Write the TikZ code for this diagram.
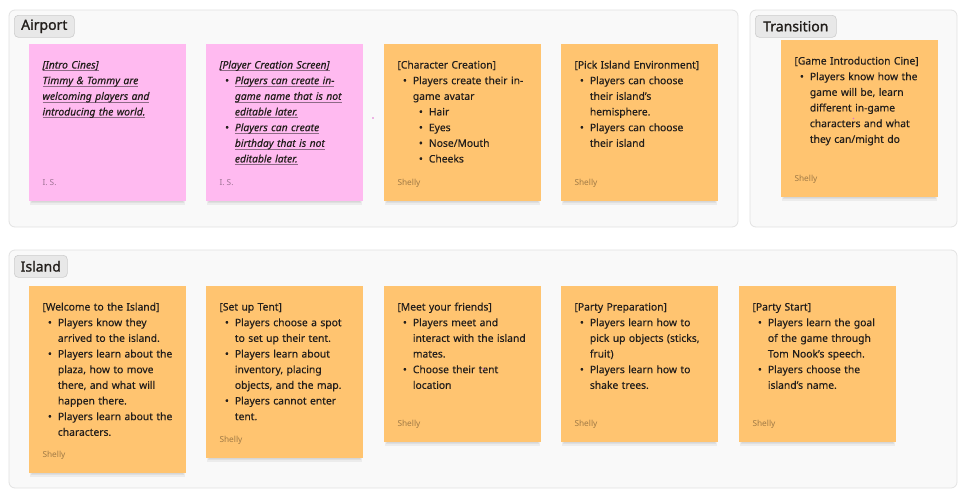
\documentclass[tikz,border=0pt]{standalone}
\usepackage{fontspec}
\setmainfont[FakeBold=0.3]{Noto Sans}
\newfontfamily\labfont[FakeBold=1.2]{Noto Sans}
\newfontfamily\footfont{Noto Sans}
\definecolor{secfill}{HTML}{F9F9F9}
\definecolor{secline}{HTML}{E2E2E2}
\definecolor{labfill}{HTML}{E8E8E8}
\definecolor{labline}{HTML}{CDCDCD}
\definecolor{orangec}{HTML}{FFC470}
\definecolor{pinkc}{HTML}{FFBAF0}
\definecolor{txt}{HTML}{221E1B}
\definecolor{ulc}{HTML}{8E6A86}
\definecolor{dotc}{HTML}{E070D0}
\newsavebox\uubox
\newcommand\uu[1]{\leavevmode\sbox\uubox{#1}\rlap{\textcolor{ulc}{\rule[-2.6pt]{\wd\uubox}{0.7pt}}}\usebox\uubox}
\newcommand\bdotchar{{\fontsize{10.5}{10.5}\selectfont\raisebox{0pt}{•}}}
\newcommand\bi[1]{\hspace*{7.4pt}\makebox[0pt]{\bdotchar}\hspace*{8pt}#1}
\newcommand\ci[1]{\hspace*{15.4pt}#1}
\newcommand\sbi[1]{\hspace*{23.4pt}\makebox[0pt]{\bdotchar}\hspace*{8pt}#1}
\newcommand\cardshadow[1]{%
  \fill[black, opacity=0.05] ([xshift=1pt]#1.south west) rectangle ([xshift=-1pt,yshift=-3.5pt]#1.south east);
  \fill[black, opacity=0.05] ([xshift=2pt]#1.south west) rectangle ([xshift=-2pt,yshift=-2pt]#1.south east);
  \fill[black, opacity=0.04] ([xshift=3pt]#1.south west) rectangle ([xshift=-3pt,yshift=-1pt]#1.south east);}
\tikzset{
  secbox/.style={draw=secline, fill=secfill, line width=0.8pt, rounded corners=6pt},
  lab/.style={draw=labline, fill=labfill, rounded corners=4pt, line width=0.6pt,
    anchor=north west, minimum height=22pt, inner sep=0pt, text=txt,
    font=\labfont\fontsize{14}{14}\selectfont},
  card/.style={anchor=north west, minimum width=156.5pt, inner sep=0pt},
  ocard/.style={card, fill=orangec},
  pcard/.style={card, fill=pinkc},
  cardtext/.style={anchor=base west, inner sep=0pt, text width=150pt, align=left,
    font=\fontsize{10.3}{15.66}\selectfont, text=txt},
  pinktext/.style={cardtext, font=\fontsize{10.3}{15.66}\selectfont\itshape},
  foot/.style={anchor=west, inner sep=0pt, text=black, text opacity=0.38,
    font=\footfont\fontsize{8.3}{9}\selectfont},
  cursordot/.style={fill=dotc, inner sep=0pt, minimum size=1.6pt, circle}
}
\begin{document}
\begin{tikzpicture}[x=1pt, y=-1pt]
\useasboundingbox (0,0) rectangle (969,501);
\fill[white] (0,0) rectangle (969,501);
% sections
\draw[secbox] (9,10) rectangle (738,227);
\draw[secbox] (750,10) rectangle (957,227);
\draw[secbox] (9,250) rectangle (957,488);
\node[lab, minimum width=60pt] (lair) at (14,15) {Airport};
\node[lab, minimum width=81pt] (ltra) at (755,15) {Transition};
\node[lab, minimum width=53pt] (lisl) at (14,255) {Island};
% Airport cards
\node[pcard, minimum height=157pt] (a1) at (29,44) {};
\cardshadow{a1}
\node[pinktext] (a1t) at ([shift={(13.3,24.5)}]a1.north west) {%
\uu{[Intro Cines]}\\
\uu{Timmy \& Tommy are}\\
\uu{welcoming players and}\\
\uu{introducing the world.}};
\node[foot] (a1f) at ([shift={(13.3,-18.5)}]a1.south west) {I. S.};

\node[pcard, minimum height=157pt] (a2) at (206,44) {};
\cardshadow{a2}
\node[pinktext] (a2t) at ([shift={(13.3,24.5)}]a2.north west) {%
\uu{[Player Creation Screen]}\\
\bi{\uu{Players can create in-}}\\
\ci{\uu{game name that is not}}\\
\ci{\uu{editable later.}}\\
\bi{\uu{Players can create}}\\
\ci{\uu{birthday that is not}}\\
\ci{\uu{editable later.}}};
\node[foot] (a2f) at ([shift={(13.3,-18.5)}]a2.south west) {I. S.};

\node[ocard, minimum height=157pt] (a3) at (384,44) {};
\cardshadow{a3}
\node[cardtext] (a3t) at ([shift={(13.3,24.5)}]a3.north west) {%
[Character Creation]\\
\bi{Players create their in-}\\
\ci{game avatar}\\
\sbi{Hair}\\
\sbi{Eyes}\\
\sbi{Nose/Mouth}\\
\sbi{Cheeks}};
\node[foot] (a3f) at ([shift={(13.3,-18.5)}]a3.south west) {Shelly};

\node[ocard, minimum height=157pt] (a4) at (561,44) {};
\cardshadow{a4}
\node[cardtext] (a4t) at ([shift={(13.3,24.5)}]a4.north west) {%
[Pick Island Environment]\\
\bi{Players can choose}\\
\ci{their island’s}\\
\ci{hemisphere.}\\
\bi{Players can choose}\\
\ci{their island}};
\node[foot] (a4f) at ([shift={(13.3,-18.5)}]a4.south west) {Shelly};

% Transition card
\node[ocard, minimum height=157pt] (t1) at (781,40) {};
\cardshadow{t1}
\node[cardtext] (t1t) at ([shift={(13.3,24.5)}]t1.north west) {%
[Game Introduction Cine]\\
\bi{Players know how the}\\
\ci{game will be, learn}\\
\ci{different in-game}\\
\ci{characters and what}\\
\ci{they can/might do}};
\node[foot] (t1f) at ([shift={(13.3,-18.5)}]t1.south west) {Shelly};

% Island cards
\node[ocard, minimum height=187pt] (i1) at (29,286) {};
\cardshadow{i1}
\node[cardtext] (i1t) at ([shift={(13.3,24.5)}]i1.north west) {%
[Welcome to the Island]\\
\bi{Players know they}\\
\ci{arrived to the island.}\\
\bi{Players learn about the}\\
\ci{plaza, how to move}\\
\ci{there, and what will}\\
\ci{happen there.}\\
\bi{Players learn about the}\\
\ci{characters.}};
\node[foot] (i1f) at ([shift={(13.3,-18.5)}]i1.south west) {Shelly};

\node[ocard, minimum height=172pt] (i2) at (206,286) {};
\cardshadow{i2}
\node[cardtext] (i2t) at ([shift={(13.3,24.5)}]i2.north west) {%
[Set up Tent]\\
\bi{Players choose a spot}\\
\ci{to set up their tent.}\\
\bi{Players learn about}\\
\ci{inventory, placing}\\
\ci{objects, and the map.}\\
\bi{Players cannot enter}\\
\ci{tent.}};
\node[foot] (i2f) at ([shift={(13.3,-18.5)}]i2.south west) {Shelly};

\node[ocard, minimum height=156pt] (i3) at (384,286) {};
\cardshadow{i3}
\node[cardtext] (i3t) at ([shift={(13.3,24.5)}]i3.north west) {%
[Meet your friends]\\
\bi{Players meet and}\\
\ci{interact with the island}\\
\ci{mates.}\\
\bi{Choose their tent}\\
\ci{location}};
\node[foot] (i3f) at ([shift={(13.3,-18.5)}]i3.south west) {Shelly};

\node[ocard, minimum height=156pt] (i4) at (561,286) {};
\cardshadow{i4}
\node[cardtext] (i4t) at ([shift={(13.3,24.5)}]i4.north west) {%
[Party Preparation]\\
\bi{Players learn how to}\\
\ci{pick up objects (sticks,}\\
\ci{fruit)}\\
\bi{Players learn how to}\\
\ci{shake trees.}};
\node[foot] (i4f) at ([shift={(13.3,-18.5)}]i4.south west) {Shelly};

\node[ocard, minimum height=156pt] (i5) at (739,286) {};
\cardshadow{i5}
\node[cardtext] (i5t) at ([shift={(13.3,24.5)}]i5.north west) {%
[Party Start]\\
\bi{Players learn the goal}\\
\ci{of the game through}\\
\ci{Tom Nook’s speech.}\\
\bi{Players choose the}\\
\ci{island’s name.}};
\node[foot] (i5f) at ([shift={(13.3,-18.5)}]i5.south west) {Shelly};

% cursor marks
\node[cursordot] (d1) at (373,118) {};
\node[cursordot] (d2) at (853.5,118.5) {};
\node[cursordot] (d3) at (483.5,369) {};
\end{tikzpicture}
\end{document}
